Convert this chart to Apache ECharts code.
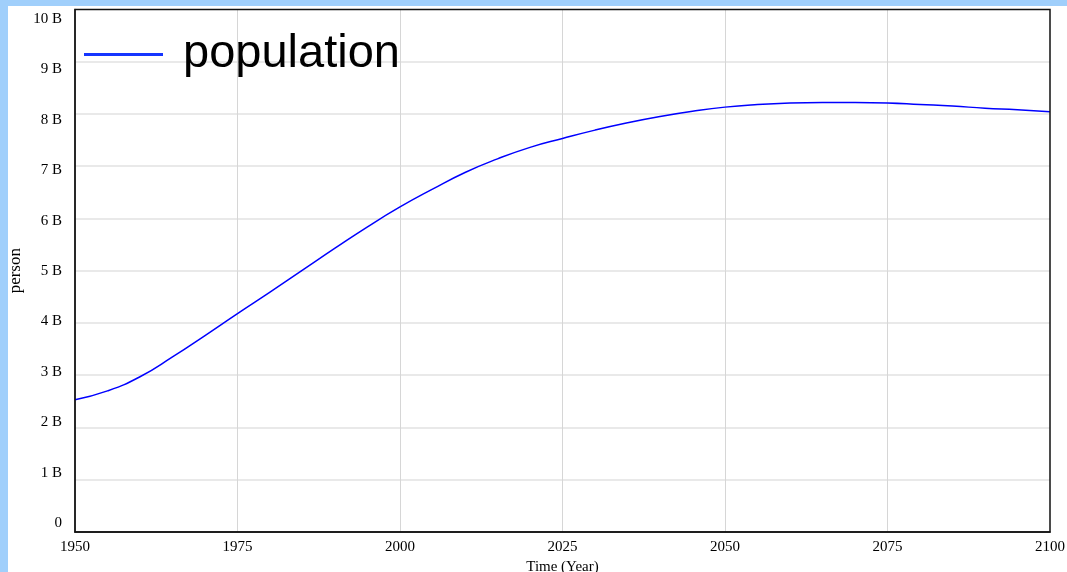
<!DOCTYPE html>
<html>
<head>
<meta charset="utf-8">
<script src="https://cdn.jsdelivr.net/npm/echarts@6/dist/echarts.min.js"></script>
<style>
  html, body { margin: 0; padding: 0; width: 1067px; height: 572px; background: #a0cffb; overflow: hidden; }
  #chart { position: absolute; left: 8px; top: 6px; width: 1059px; height: 566px; background: #ffffff; }
</style>
</head>
<body>
<div id="chart"></div>
<script>
// Data
const years = [1950,1955,1960,1965,1970,1975,1980,1985,1990,1995,2000,2005,2010,2015,2020,2025,2030,2035,2040,2045,2050,2055,2060,2065,2070,2075,2080,2085,2090,2095,2100];
const population = [2.53,2.70,2.97,3.35,3.76,4.18,4.59,5.01,5.43,5.84,6.22,6.56,6.88,7.14,7.36,7.53,7.69,7.83,7.95,8.05,8.13,8.18,8.21,8.22,8.22,8.21,8.18,8.15,8.11,8.08,8.04];
const yTickValues = [0,1,2,3,4,5,6,7,8,9,10];
const yTickLabels = ['0','1 B','2 B','3 B','4 B','5 B','6 B','7 B','8 B','9 B','10 B'];
const seriesName = 'population';

const serif = '"Liberation Serif", "Times New Roman", serif';
const chart = echarts.init(document.getElementById('chart'));
chart.setOption({
  animation: false,
  backgroundColor: '#ffffff',
  grid: [
    { left: 67, right: 17, top: 3.4, bottom: 40, show: true, borderColor: '#111', borderWidth: 1.5, backgroundColor: 'transparent', outerBoundsMode: 'none', containLabel: false, z: 5 },
    { left: 67, right: 17, top: 13, bottom: 49, show: false, outerBoundsMode: 'none', containLabel: false }
  ],
  legend: {
    left: 76, top: 3, padding: 0,
    icon: 'rect', itemWidth: 79, itemHeight: 3, itemGap: 0,
    itemStyle: { color: '#1535ff' },
    textStyle: { fontFamily: '"Liberation Sans", Arial, sans-serif', fontSize: 47, color: '#000', padding: [0, 0, 41, 15], lineHeight: 50 },
    data: [seriesName]
  },
  xAxis: [
    {
      gridIndex: 0, type: 'value', min: 1950, max: 2100, interval: 25,
      name: 'Time (Year)', nameLocation: 'middle', nameGap: 19,
      nameTextStyle: { fontFamily: serif, fontSize: 15, color: '#000' },
      axisLine: { show: true, lineStyle: { color: '#111', width: 1.5 } }, axisTick: { show: false },
      axisLabel: { fontFamily: serif, fontSize: 15, color: '#000', margin: 8, formatter: v => String(v) },
      splitLine: { show: true, showMinLine: false, showMaxLine: false, lineStyle: { color: '#d6d6d6', width: 1 } }
    },
    { gridIndex: 1, type: 'value', min: 1950, max: 2100, show: false }
  ],
  yAxis: [
    {
      gridIndex: 0, type: 'value', min: 0, max: 10, interval: 1,
      name: 'person', nameLocation: 'middle', nameGap: 51, nameRotate: 90,
      nameTextStyle: { fontFamily: serif, fontSize: 17, color: '#000' },
      axisLine: { show: true, lineStyle: { color: '#444', width: 1.5 } }, axisTick: { show: false }, axisLabel: { show: false },
      splitLine: { show: true, showMinLine: false, showMaxLine: false, lineStyle: { color: '#e2e2e2', width: 1.5 } }
    },
    {
      gridIndex: 1, type: 'value', min: 0, max: 10, interval: 1,
      axisLine: { show: false }, axisTick: { show: false }, splitLine: { show: false },
      axisLabel: { fontFamily: serif, fontSize: 15, color: '#000', margin: 13,
        formatter: v => yTickLabels[yTickValues.indexOf(v)] }
    }
  ],
  series: [{
    name: seriesName, type: 'line', xAxisIndex: 0, yAxisIndex: 0,
    data: years.map((y, i) => [y, population[i]]),
    smooth: true, showSymbol: false, symbol: 'none',
    lineStyle: { color: '#0000ff', width: 1.5 },
    itemStyle: { color: '#1535ff' }
  }]
});
</script>
</body>
</html>
